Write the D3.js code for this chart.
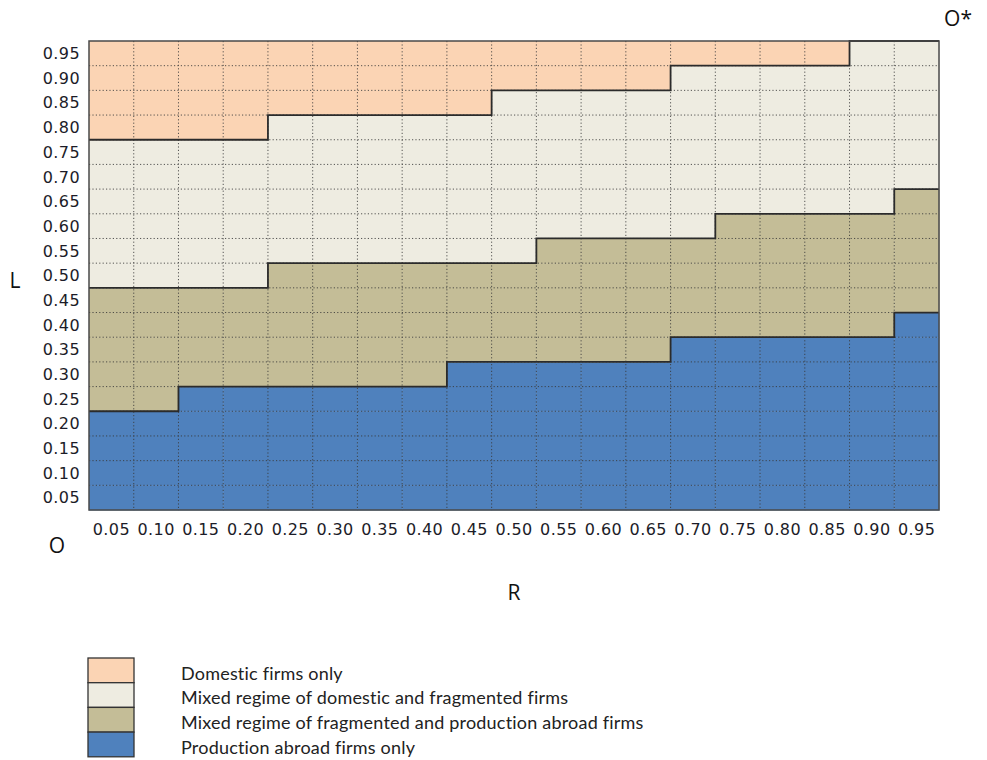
<!DOCTYPE html>
<html>
<head>
<meta charset="utf-8">
<script src="https://cdn.jsdelivr.net/npm/d3@7"></script>
<style>
  body { margin: 0; background: #fff; }
  svg { display: block; }
</style>
</head>
<body>
<div id="chart"></div>
<script>
const R_values = ["0.05","0.10","0.15","0.20","0.25","0.30","0.35","0.40","0.45","0.50",
                  "0.55","0.60","0.65","0.70","0.75","0.80","0.85","0.90","0.95"];
const L_values = R_values.slice();

// highest L of each regime, per R column
const abroadMax = [0.20,0.20,0.25,0.25,0.25,0.25,0.25,0.25,0.30,0.30,0.30,0.30,0.30,0.35,0.35,0.35,0.35,0.35,0.40];
const fragMax   = [0.45,0.45,0.45,0.45,0.50,0.50,0.50,0.50,0.50,0.50,0.55,0.55,0.55,0.55,0.60,0.60,0.60,0.60,0.65];
const mixedMax  = [0.75,0.75,0.75,0.75,0.80,0.80,0.80,0.80,0.80,0.85,0.85,0.85,0.85,0.90,0.90,0.90,0.90,0.95,0.95];

const regimes = ["Domestic firms only",
                 "Mixed regime of domestic and fragmented firms",
                 "Mixed regime of fragmented and production abroad firms",
                 "Production abroad firms only"];
const colors = ["#fbd4b4", "#eeece1", "#c4bd97", "#4f81bd"];

const width = 987, height = 760;
const margin = {top: 41, left: 89};
const plotW = 850, plotH = 469;

let svg = d3.select("#chart").append("svg")
    .attr("width", width)
    .attr("height", height);

let g = svg.append("g")
    .attr("transform", `translate(${margin.left},${margin.top})`);

let x = d3.scaleBand().domain(R_values).range([0, plotW]).padding(0);
let y = d3.scaleBand().domain(L_values.slice().reverse()).range([0, plotH]).padding(0);

function regimeOf(i, l) {
    if (l <= abroadMax[i] + 1e-9) return 3;
    if (l <= fragMax[i] + 1e-9) return 2;
    if (l <= mixedMax[i] + 1e-9) return 1;
    return 0;
}

let cells = [];
R_values.forEach(function(r, i) {
    L_values.forEach(function(l) {
        cells.push({r: r, l: l, k: regimeOf(i, +l)});
    });
});

g.selectAll("rect.cell").data(cells).enter()
    .append("rect")
    .attr("class", "cell")
    .attr("x", d => x(d.r))
    .attr("y", d => y(d.l))
    .attr("width", x.bandwidth() + 0.5)
    .attr("height", y.bandwidth() + 0.5)
    .attr("fill", d => colors[d.k]);

// dotted grid on band edges
let grid = g.append("g").attr("stroke", "#3a3a3a").attr("stroke-width", 1)
    .attr("stroke-dasharray", "1.2,2.2").attr("opacity", 0.85);
R_values.slice(1).forEach(function(r) {
    grid.append("line").attr("x1", x(r)).attr("x2", x(r)).attr("y1", 0).attr("y2", plotH);
});
L_values.slice(0, -1).forEach(function(l) {
    grid.append("line").attr("y1", y(l)).attr("y2", y(l)).attr("x1", 0).attr("x2", plotW);
});

// regime boundaries as steps
function stepPoints(arr) {
    let pts = [];
    R_values.forEach(function(r, i) {
        let top = y(arr[i].toFixed(2));
        pts.push([x(r), top], [x(r) + x.bandwidth(), top]);
    });
    return pts;
}
let line = d3.line();
[abroadMax, fragMax, mixedMax].forEach(function(arr) {
    g.append("path")
        .attr("d", line(stepPoints(arr)))
        .attr("fill", "none")
        .attr("stroke", "#2b2b2b")
        .attr("stroke-width", 1.8);
});

g.append("rect")
    .attr("width", plotW).attr("height", plotH)
    .attr("fill", "none")
    .attr("stroke", "#4a4a4a")
    .attr("stroke-width", 1.5);

// tick labels
let tickFont = "DejaVu Sans, Verdana, sans-serif";
g.selectAll("text.ylab").data(L_values).enter()
    .append("text")
    .attr("x", -9)
    .attr("y", d => y(d) + y.bandwidth() / 2)
    .attr("dy", "0.36em")
    .attr("text-anchor", "end")
    .style("font-family", tickFont)
    .style("font-size", "16px")
    .style("letter-spacing", "0.4px")
    .attr("fill", "#1c1c28")
    .text(d => d);

g.selectAll("text.xlab").data(R_values).enter()
    .append("text")
    .attr("x", d => x(d) + x.bandwidth() / 2)
    .attr("y", plotH + 25)
    .attr("text-anchor", "middle")
    .style("font-family", tickFont)
    .style("font-size", "16px")
    .style("letter-spacing", "0.4px")
    .attr("fill", "#1c1c28")
    .text(d => d);

// axis letters
let letters = [["L", 15, 288], ["O", 57, 553], ["O*", 958, 26], ["R", 514, 600]];
svg.selectAll("text.letter").data(letters).enter()
    .append("text")
    .attr("x", d => d[1])
    .attr("y", d => d[2])
    .attr("text-anchor", "middle")
    .style("font-family", "Open Sans, sans-serif")
    .style("font-size", "21px")
    .attr("fill", "#111")
    .text(d => d[0]);

// legend
let legend = svg.append("g").attr("transform", "translate(88,658)");
let rowH = 24.7;
legend.selectAll("rect").data(regimes).enter()
    .append("rect")
    .attr("x", 0)
    .attr("y", (d, i) => i * rowH)
    .attr("width", 46)
    .attr("height", rowH)
    .attr("fill", (d, i) => colors[i])
    .attr("stroke", "#333")
    .attr("stroke-width", 1.3);

legend.selectAll("text").data(regimes).enter()
    .append("text")
    .attr("x", 93)
    .attr("y", (d, i) => i * rowH + rowH / 2 + 3)
    .attr("dy", "0.35em")
    .style("font-family", "Lato, Open Sans, sans-serif")
    .style("font-size", "18px")
    .style("letter-spacing", "0.2px")
    .attr("fill", "#222")
    .text(d => d);
</script>
</body>
</html>
